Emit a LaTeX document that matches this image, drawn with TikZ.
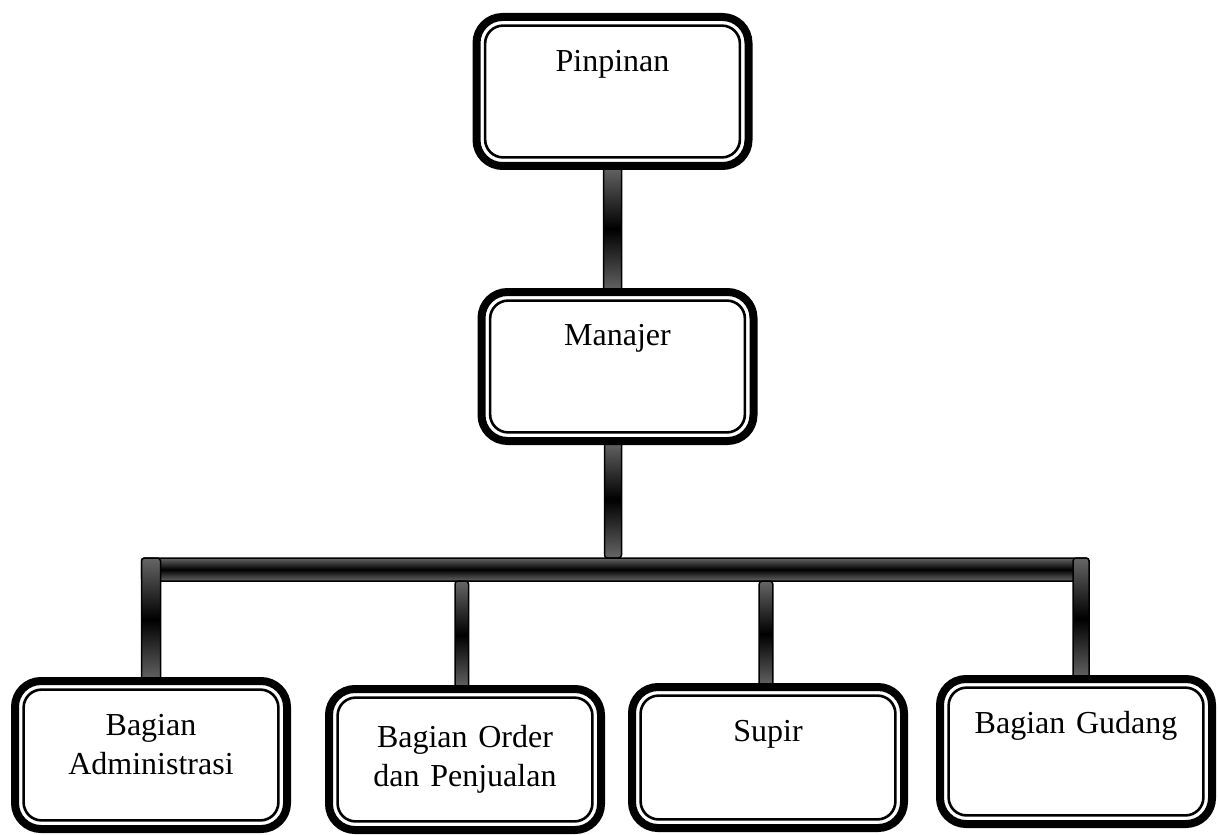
\documentclass[tikz,border=0pt]{standalone}
\usepackage{fontspec}
\setmainfont{Liberation Serif}
\usetikzlibrary{positioning, backgrounds}

\begin{document}
\begin{tikzpicture}[
  font=\fontsize{16}{19.5}\selectfont,
  unitbox/.style={
    rectangle, rounded corners=13pt, draw=black, line width=4pt,
    fill=white, inner sep=0pt, outer sep=0pt,
    text width=136pt, align=center,
    text height=27.5pt, text depth=47pt
  },
  rim/.style={draw=black, line width=1.3pt, rounded corners=9pt},
  pipe/.style={
    draw=black, line width=0.75pt, rounded corners=1.5pt,
    top color=black!60, bottom color=black!60, middle color=black
  }
]
\useasboundingbox (0,0) rectangle (609pt,-417pt);

% ================ Pinpinan / Manajer ================
\node[unitbox, anchor=north] (pin) at (306.25pt,-8.5pt) {Pinpinan};
\node[unitbox, below=63pt of pin.south, xshift=2.5pt,
      text height=26.5pt, text depth=48pt] (man) {Manajer};

% ================ Bagian ================
\node[unitbox, anchor=north, text height=27pt, text depth=47pt] (adm)
  at (75.5pt,-340.5pt) {Bagian\\Administrasi};
\node[unitbox, right=21pt of adm.north east, anchor=north west, yshift=-4pt,
      text height=29pt, text depth=41.5pt] (ord) {Bagian Order\\dan Penjualan};
\node[unitbox, right=15.5pt of ord.north east, anchor=north west, yshift=1pt,
      text height=27pt, text depth=43.5pt] (sup) {Supir};
\node[unitbox, right=18pt of sup.north east, anchor=north west, yshift=4pt,
      text height=27pt, text depth=45.5pt] (gud) {Bagian Gudang};

% garis dalam
\foreach \n in {pin,man,adm,ord,sup,gud}
  \draw[rim] ([shift={(4.3pt,4.3pt)}]\n.south west)
    rectangle ([shift={(-4.3pt,-4.3pt)}]\n.north east);

% ================ Penghubung ================
\coordinate[below=58.5pt of man.south] (bus);
\coordinate[below=11.5pt of bus] (busb);
\begin{scope}[on background layer]
  \draw[pipe] ([xshift=-4.5pt]pin.south) rectangle ([xshift=4.5pt]pin.south |- man.north);
  \draw[pipe] ([xshift=-6.5pt]man.south) rectangle ([xshift=2pt]man.south |- bus);
  \draw[pipe] ([xshift=-4.75pt]adm.north |- bus) rectangle ([xshift=6.5pt]gud.north |- busb);
  \draw[pipe] ([xshift=-4.75pt]adm.north |- bus) rectangle ([xshift=4.75pt]adm.north);
  \draw[pipe] ([xshift=-5pt]ord.north |- busb) rectangle ([xshift=1.75pt]ord.north);
  \draw[pipe] ([xshift=-4.4pt]sup.north |- busb) rectangle ([xshift=2.4pt]sup.north);
  \draw[pipe] ([xshift=-1.5pt]gud.north |- bus) rectangle ([xshift=6.5pt]gud.north);
\end{scope}
\end{tikzpicture}
\end{document}
